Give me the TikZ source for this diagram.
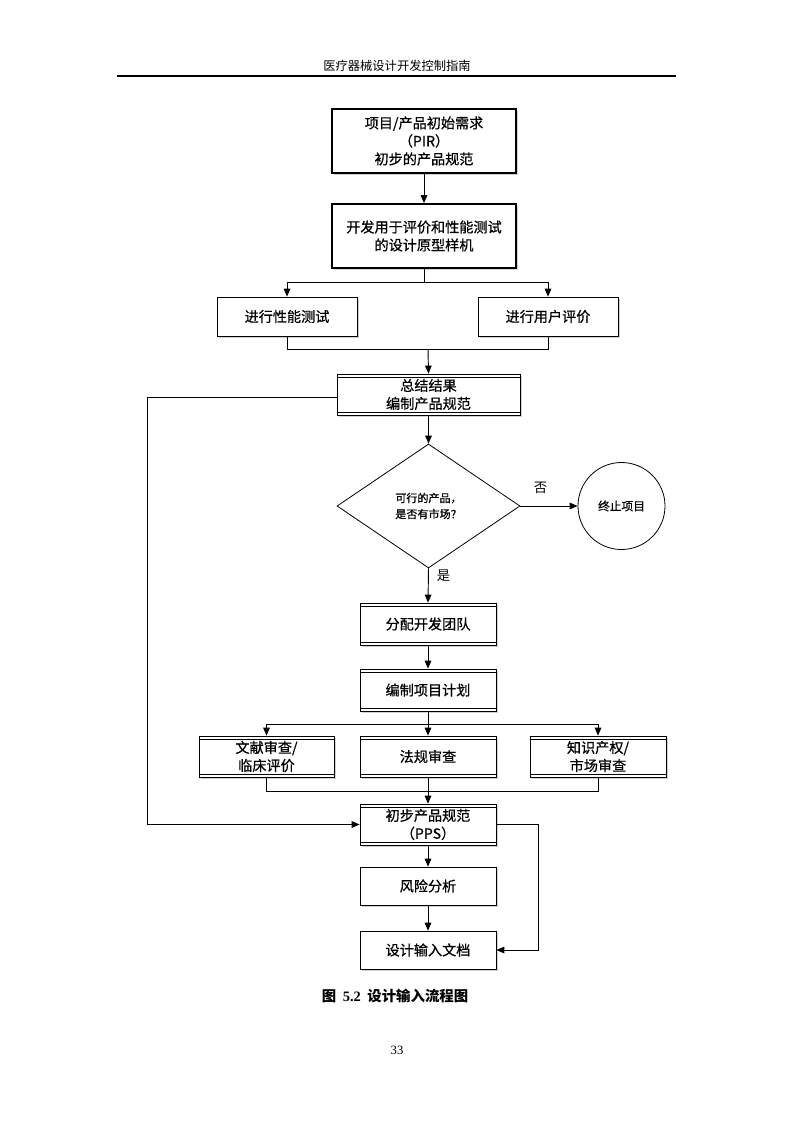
\documentclass[tikz,border=0pt]{standalone}
\usepackage{fontspec}
\setmainfont{Liberation Serif}
\newfontfamily\cjk{Noto Sans CJK SC}
\newfontfamily\cjkm{Noto Sans CJK SC}[FakeBold=0.6]
\usetikzlibrary{arrows.meta,shapes.geometric,shadows}
\tikzset{
  every node/.style={font=\cjkm\fontsize{10.6}{13.5}\selectfont, align=center, inner sep=0pt},
  bx/.style={draw, fill=white, line width=0.6pt, drop shadow={shadow xshift=1.2pt, shadow yshift=-1.5pt, opacity=0.18, fill=black}},
  thickbx/.style={bx, line width=1.3pt},
  conn/.style={line width=0.7pt},
  arr/.style={conn, -{Triangle[length=6pt,width=5pt]}},
}
\newcommand\dlines[1]{%
  \draw[line width=0.6pt] ([yshift=-2.6pt]#1.north west) -- ([yshift=-2.6pt]#1.north east);
  \draw[line width=0.6pt] ([yshift=2.6pt]#1.south west) -- ([yshift=2.6pt]#1.south east);}
\begin{document}
\begin{tikzpicture}[x=0.75pt,y=-0.75pt]
\useasboundingbox (0,0) rectangle (794,1123);
% header
\node[font=\cjk\fontsize{9.2}{11}\selectfont] (hdr) at (397,66) {医疗器械设计开发控制指南};
\coordinate (hl) at (117,76); \coordinate (hr) at (676,76);
\draw[line width=0.8pt] (hl) -- (hr);
% boxes
\node[thickbx, minimum width=138pt, minimum height=48pt] (b1) at (424,141) {项目/产品初始需求\\（PIR）\\初步的产品规范};
\node[thickbx, minimum width=138pt, minimum height=48pt] (b2) at (424,236) {开发用于评价和性能测试\\的设计原型样机};
\node[bx, minimum width=105pt, minimum height=29.25pt] (b3) at (287,316.5) {进行性能测试};
\node[bx, minimum width=105pt, minimum height=29.25pt] (b4) at (548,316.5) {进行用户评价};
\node[bx, minimum width=137.25pt, minimum height=30.75pt] (b5) at (428.5,394.5) {总结结果\\编制产品规范};
\node[draw, shape=diamond, line width=0.6pt, minimum width=137.25pt, minimum height=93pt, font=\cjkm\fontsize{8.3}{12}\selectfont, align=left] (d) at (428.5,506) {可行的产品，\\是否有市场？};
\node[draw, circle, line width=0.6pt, minimum size=65.25pt, font=\cjkm\fontsize{8.8}{11}\selectfont] (c) at (621.5,506) {终止项目};
\node[bx, minimum width=102pt, minimum height=31.5pt] (b6) at (428,624) {分配开发团队};
\node[bx, minimum width=102pt, minimum height=31.5pt] (b7) at (428,690) {编制项目计划};
\node[bx, minimum width=101.25pt, minimum height=30.75pt] (b8) at (266.5,756.5) {文献审查/\\临床评价};
\node[bx, minimum width=102pt, minimum height=30.75pt] (b9) at (428,756.5) {法规审查};
\node[bx, minimum width=102pt, minimum height=30.75pt] (b10) at (598,756.5) {知识产权/\\市场审查};
\node[bx, minimum width=102pt, minimum height=30.75pt] (b11) at (428,824.5) {初步产品规范\\（PPS）};
\node[bx, minimum width=102pt, minimum height=28.5pt] (b12) at (428,886) {风险分析};
\node[bx, minimum width=102pt, minimum height=28.5pt] (b13) at (428,950) {设计输入文档};
\dlines{b5}\dlines{b6}\dlines{b7}\dlines{b8}\dlines{b9}\dlines{b10}\dlines{b11}
% connectors
\draw[arr] (b1) -- (b2);
\coordinate (s1) at (424,282);
\draw[conn] (b2.south) -- (s1);
\draw[arr] (s1) -| (b3.north);
\draw[arr] (s1) -| (b4.north);
\coordinate (m1) at (428,349);
\draw[conn] (b3.south) |- (m1);
\draw[conn] (b4.south) |- (m1);
\draw[arr] (m1) -- (b5.north);
\draw[arr] (b5) -- (d);
\draw[arr] (d.east) -- (c.west) node[pos=0.35, above=9pt, font=\cjk\fontsize{10}{12}\selectfont] (no) {否};
\draw[arr] (d.south) -- (b6.north) node[pos=0.2, right=6pt, font=\cjk\fontsize{10}{12}\selectfont] (yes) {是};
\draw[arr] (b6) -- (b7);
\coordinate (s2) at (428,724);
\draw[conn] (b7.south) -- (s2);
\draw[arr] (s2) -| (b8.north);
\draw[arr] (s2) -- (b9.north);
\draw[arr] (s2) -| (b10.north);
\coordinate (m2) at (428,791);
\draw[conn] (b8.south) |- (m2);
\draw[conn] (b10.south) |- (m2);
\draw[conn] (b9.south) -- (m2);
\draw[arr] (m2) -- (b11.north);
\coordinate (lft) at (147,397);
\coordinate (lfb) at (147,824.5);
\draw[arr] (b5.west |- lft) -- (lft) -- (lfb) -- (b11.west);
\coordinate (rt) at (538,824.5);
\coordinate (rb) at (538,950);
\draw[arr] (b11.east) -- (rt) -- (rb) -- (b13.east);
\draw[arr] (b11) -- (b12);
\draw[arr] (b12) -- (b13);
% caption
\node[font=\cjk\bfseries\fontsize{10.8}{13}\selectfont] (cap) at (395,996) {图\ \ {\rmfamily\bfseries 5.2}\ \ 设计输入流程图};
\node[font=\rmfamily\fontsize{9.5}{11}\selectfont] (pg) at (397,1050) {33};
\end{tikzpicture}
\end{document}
